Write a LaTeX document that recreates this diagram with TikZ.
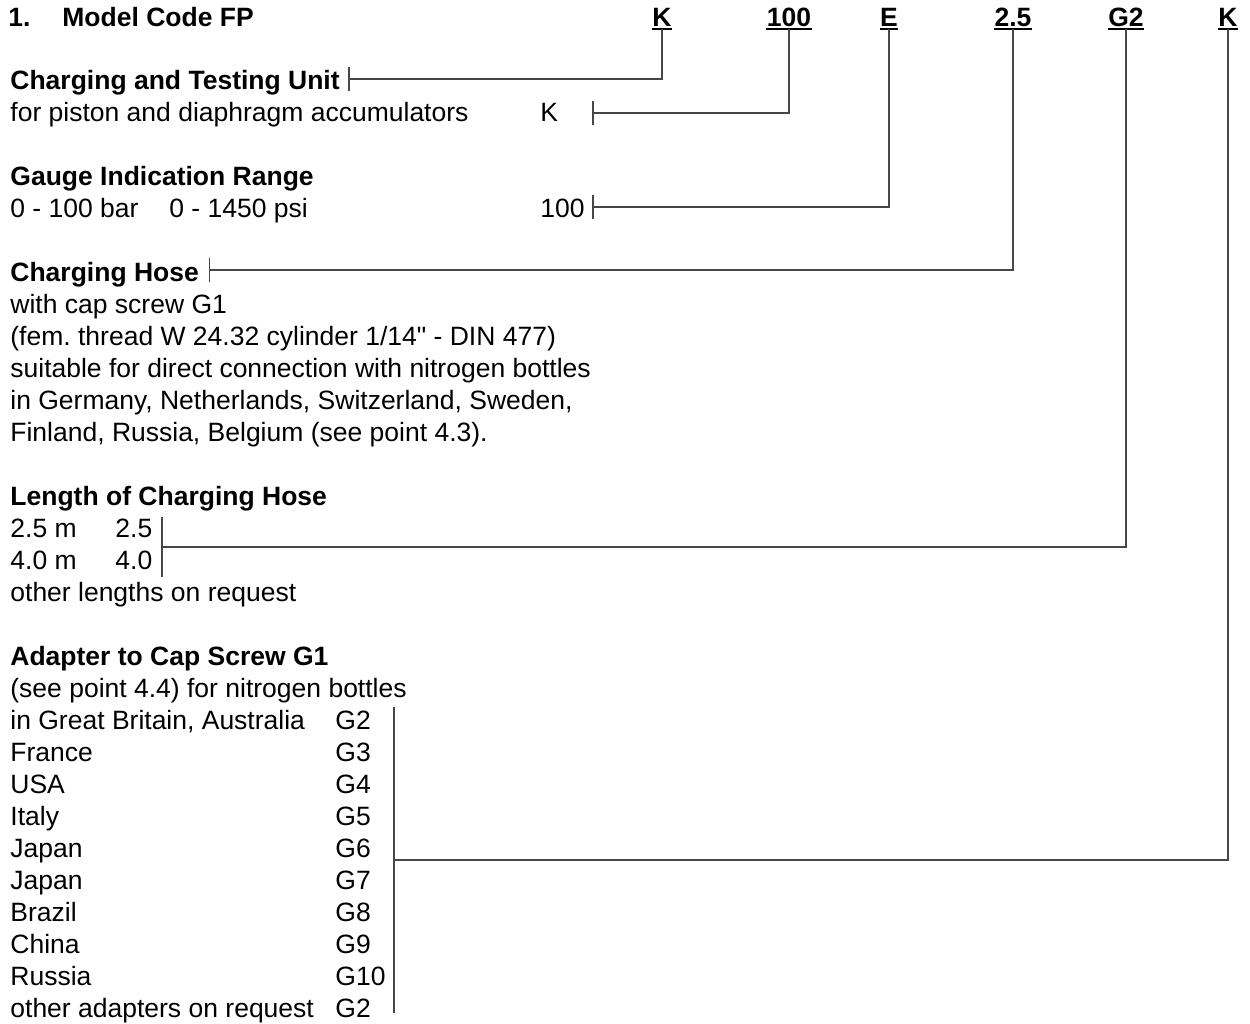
\documentclass[tikz,border=0pt]{standalone}
\usepackage{fontspec}
\setmainfont{Liberation Sans}[Ligatures=TeXOff]
\usetikzlibrary{calc}
\frenchspacing
\begin{document}
\begin{tikzpicture}[x=0.5pt,y=-0.5pt,
  txt/.style={anchor=base west,inner sep=0pt,font=\fontsize{13.25pt}{16pt}\selectfont},
  hd/.style={anchor=base west,inner sep=0pt,font=\fontsize{13.25pt}{16pt}\selectfont\bfseries},
  code/.style={anchor=base,inner sep=0pt,font=\fontsize{13.25pt}{16pt}\selectfont\bfseries},
  conn/.style={draw=black!72,line width=0.85pt},
  tickmark/.style={draw=black!72,line width=0.75pt},
  uline/.style={draw=black,line width=0.75pt}]
\useasboundingbox[fill=white] (0,0) rectangle (1250,1024);

% title and model code letters
\node[hd] (num) at (8,26) {1.};
\node[hd] (title) at (62,26) {Model Code FP};
\node[code] (c1) at (662,26) {K};
\node[code] (c2) at (789,26) {100};
\node[code] (c3) at (889,26) {E};
\node[code] (c4) at (1013,26) {2.5};
\node[code] (c5) at (1126,26) {G2};
\node[code] (c6) at (1228,26) {K};
\foreach \c in {c1,c2,c3,c4,c5,c6}
  \draw[uline] ([yshift=-1.6pt]\c.base west) -- ([yshift=-1.6pt]\c.base east);

% unit type
\node[hd] (h1) at (10,89) {Charging and Testing Unit};
\node[txt] (l1) at (10,121) {for piston and diaphragm accumulators};
\node[txt] (k1) at (540,121) {K};

% gauge range
\node[hd] (h2) at (10,185) {Gauge Indication Range};
\node[txt] (l2a) at (10,217) {0 - 100 bar};
\node[txt] (l2b) at (169,217) {0 - 1450 psi};
\node[txt] (k2) at (540,217) {100};

% charging hose
\node[hd] (h3) at (10,281) {Charging Hose};
\node[txt] (l3a) at (10,313) {with cap screw G1};
\node[txt] (l3b) at (10,345) {(fem. thread W 24.32 cylinder 1/14" - DIN 477)};
\node[txt] (l3c) at (10,377) {suitable for direct connection with nitrogen bottles};
\node[txt] (l3d) at (10,409) {in Germany, Netherlands, Switzerland, Sweden,};
\node[txt] (l3e) at (10,441) {Finland, Russia, Belgium (see point 4.3).};

% hose length
\node[hd] (h4) at (10,505) {Length of Charging Hose};
\node[txt] (l4a) at (10,537) {2.5 m};
\node[txt] (k4a) at (115,537) {2.5};
\node[txt] (l4b) at (10,569) {4.0 m};
\node[txt] (k4b) at (115,569) {4.0};
\node[txt] (l4c) at (10,601) {other lengths on request};

% adapters
\node[hd] (h5) at (10,665) {Adapter to Cap Screw G1};
\node[txt] (l5) at (10,697) {(see point 4.4) for nitrogen bottles};
\foreach \i/\land/\g in {0/{in Great Britain, Australia}/G2, 1/France/G3, 2/USA/G4,
    3/Italy/G5, 4/Japan/G6, 5/Japan/G7, 6/Brazil/G8, 7/China/G9, 8/Russia/G10,
    9/{other adapters on request}/G2}{
  \node[txt] (a\i) at (10,729+32*\i) {\land};
  \node[txt] (g\i) at (335,729+32*\i) {\g};
}

% tick marks and bracket ends
\coordinate (t1) at ([xshift=4.5pt,yshift=5pt]h1.base east);
\coordinate (t2) at (593,113);
\coordinate (t3) at (593,207);
\coordinate (t4) at ([xshift=5pt,yshift=5.5pt]h3.base east);
\coordinate (t5) at (162,547);
\coordinate (t6) at (394,860);
\foreach \t in {t1,t2,t3,t4}
  \draw[tickmark] ([yshift=6pt]\t) -- ([yshift=-6pt]\t);
\draw[tickmark] (162,517) -- (162,577);
\draw[tickmark] (394,707) -- (394,1013);

% connectors to the code letters
\draw[conn] (t1) -| ([yshift=-1.6pt]c1.base);
\draw[conn] (t2) -| ([yshift=-1.6pt]c2.base);
\draw[conn] (t3) -| ([yshift=-1.6pt]c3.base);
\draw[conn] (t4) -| ([yshift=-1.6pt]c4.base);
\draw[conn] (t5) -| ([yshift=-1.6pt]c5.base);
\draw[conn] (t6) -| ([yshift=-1.6pt]c6.base);
\end{tikzpicture}
\end{document}
